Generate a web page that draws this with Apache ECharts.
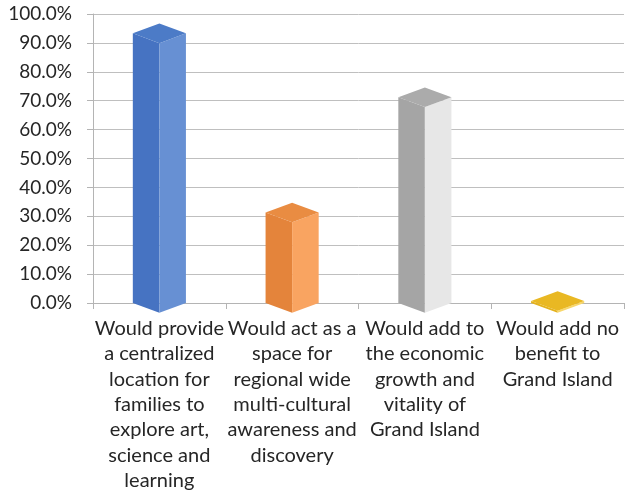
<!DOCTYPE html>
<html>
<head>
<meta charset="utf-8">
<script src="https://cdn.jsdelivr.net/npm/echarts@6/dist/echarts.min.js"></script>
<style>
  html, body { margin: 0; padding: 0; background: #fff; }
  #chart { width: 626px; height: 497px; }
</style>
</head>
<body>
<div id="chart"></div>
<script>
// Survey answers (category labels, with manual line breaks) and share of respondents
const categories = [
  'Would provide\na centralized\nlocation for\nfamilies to\nexplore art,\nscience and\nlearning',
  'Would act as a\nspace for\nregional wide\nmulti-cultural\nawareness and\ndiscovery',
  'Would add to\nthe economic\ngrowth and\nvitality of\nGrand Island',
  'Would add no\nbenefit to\nGrand Island'
];
const shares = [0.933, 0.313, 0.712, 0.007];
const yTicks = [0, 0.1, 0.2, 0.3, 0.4, 0.5, 0.6, 0.7, 0.8, 0.9, 1.0];

// Face colours for each prism: [left face, right face, top face]
const faceColors = [
  ['#4673c2', '#6790d3', '#4c7bc7'],
  ['#e4843b', '#f9a461', '#e98c42'],
  ['#a5a5a5', '#e7e7e7', '#ababab'],
  ['#e4b21d', '#f8d76a', '#e9b823']
];

const FONT = 'Lato';
const chart = echarts.init(document.getElementById('chart'), null, { renderer: 'canvas' });

// Draw a square prism turned 45 degrees, seen slightly from above
function renderPrism(params, api) {
  const idx = api.value(0);
  const val = api.value(1);
  const top = api.coord([idx, val]);
  const base = api.coord([idx, 0]);
  const band = api.size([1, 0])[0];
  const cx = top[0];
  const hw = band * 0.2;       // half width of the prism
  const dy = hw * 0.37;        // vertical half-extent of the diamond
  const c = faceColors[idx];
  const yT = top[1];
  const yB = base[1];
  return {
    type: 'group',
    children: [
      {
        type: 'polygon',
        shape: { points: [[cx - hw, yT], [cx, yT + dy], [cx, yB + dy], [cx - hw, yB]] },
        style: { fill: c[0] }
      },
      {
        type: 'polygon',
        shape: { points: [[cx, yT + dy], [cx + hw, yT], [cx + hw, yB], [cx, yB + dy]] },
        style: { fill: c[1] }
      },
      {
        type: 'polygon',
        shape: { points: [[cx, yT - dy], [cx + hw, yT], [cx, yT + dy], [cx - hw, yT]] },
        style: { fill: c[2] }
      }
    ]
  };
}

chart.setOption({
  animation: false,
  backgroundColor: '#ffffff',
  grid: { left: 93, right: 2, top: 14, bottom: 194, containLabel: false },
  xAxis: {
    type: 'category',
    data: categories,
    boundaryGap: true,
    axisLine: { show: true, lineStyle: { color: '#b4b4b4', width: 1 } },
    axisTick: { show: true, length: 6, interval: 0, lineStyle: { color: '#b4b4b4' } },
    axisLabel: {
      interval: 0,
      margin: 13,
      fontFamily: FONT,
      fontSize: 20,
      lineHeight: 25.3,
      color: '#262626',
      align: 'center'
    },
    splitLine: { show: false }
  },
  yAxis: {
    type: 'value',
    min: 0,
    max: 1,
    interval: 0.1,
    axisLine: { show: true, lineStyle: { color: '#b4b4b4', width: 1 } },
    axisTick: { show: true, length: 6, lineStyle: { color: '#b4b4b4' } },
    axisLabel: {
      margin: 21,
      fontFamily: FONT,
      fontSize: 19,
      color: '#262626',
      formatter: v => (v * 100).toFixed(1) + '%'
    },
    splitLine: { show: true, lineStyle: { color: '#bfbfbf', width: 1 } }
  },
  series: [{
    type: 'custom',
    renderItem: renderPrism,
    data: shares.map((v, i) => [i, v]),
    encode: { x: 0, y: 1 },
    clip: false,
    z: 5
  }]
});
</script>
</body>
</html>
